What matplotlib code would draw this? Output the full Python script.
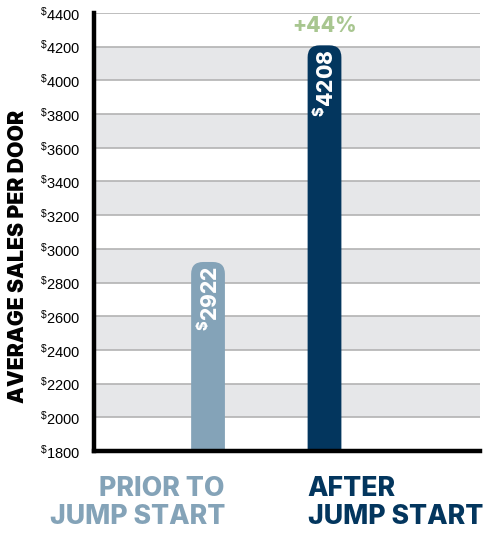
import matplotlib.pyplot as plt
from matplotlib.patches import FancyBboxPatch

# data
categories = ["PRIOR TO\nJUMP START", "AFTER\nJUMP START"]
values = [2922, 4208]
bar_colors = ["#84a3b8", "#03365e"]
yticks = list(range(1800, 4401, 200))
gray_bands = [(2000, 2200), (2400, 2600), (2800, 3000), (3200, 3400), (3600, 3800), (4000, 4200)]
change_label = "+44%"

plt.rcParams['font.family'] = ['Liberation Sans', 'DejaVu Sans']
plt.rcParams['mathtext.default'] = 'regular'
heavy = ['Inter', 'DejaVu Sans']

fig = plt.figure(figsize=(4.83, 5.33), dpi=100)
ax = fig.add_axes([94 / 483, 82 / 533, 386 / 483, 438 / 533])

ymin, ymax = 1800, 4400
ax.set_ylim(ymin, ymax)
ax.set_xlim(-0.979, 2.335)

for lo, hi in gray_bands:
    ax.axhspan(lo, hi, color="#e6e7e9", lw=0, zorder=0)
for t in yticks[1:]:
    ax.axhline(t, color="#b3b3b3", lw=1.2, zorder=1)

# rounded bars: circle corners need aspect correction
fig.canvas.draw()
bbox = ax.get_window_extent()
px_x = (ax.get_xlim()[1] - ax.get_xlim()[0]) / bbox.width
px_y = (ymax - ymin) / bbox.height
aspect = px_y / px_x

width = 0.29
radius = 12 * px_x
for i, (v, c) in enumerate(zip(values, bar_colors)):
    bottom = ymin - 200
    p = FancyBboxPatch((i - width / 2, bottom), width, v - bottom,
                       boxstyle="round,pad=0,rounding_size=%f" % radius,
                       mutation_aspect=aspect, fc=c, ec="none", zorder=2)
    ax.add_patch(p)
    ax.annotate(r"$^{\$}$" + str(v), (i, v), xytext=(0, -3), textcoords="offset points",
                rotation=90, ha="center", va="top", color="white",
                fontsize=15, fontweight=800, family=heavy, zorder=3)

ax.text(1, 4325, change_label, ha="center", va="center", color="#a8c690",
        fontsize=15, fontweight=800, family=heavy)

ax.set_yticks(yticks)
ax.set_yticklabels([r"$^{\$}$" + str(t) for t in yticks], fontsize=10.5)
ax.tick_params(axis="y", length=0, pad=10)
ax.set_xticks([])

for s in ["top", "right"]:
    ax.spines[s].set_visible(False)
for s in ["left", "bottom"]:
    ax.spines[s].set_linewidth(3.2)
    ax.spines[s].set_color("black")
    ax.spines[s].set_zorder(5)

fig.text(18 / 483, 1 - 256 / 533, "AVERAGE SALES PER DOOR", rotation=90,
         ha="center", va="center", fontsize=15.3, fontweight=900, family=heavy)

for i, (lab, c) in enumerate(zip(categories, bar_colors)):
    ha = "right" if i == 0 else "left"
    xpos = i + width / 2 if i == 0 else i - width / 2
    ax.text(xpos, 1650, lab, ha=ha, va="top", color=c, fontsize=19.2,
            fontweight=800, family=heavy, linespacing=1.08, transform=ax.transData)

fig.savefig("out.png", dpi=100)
